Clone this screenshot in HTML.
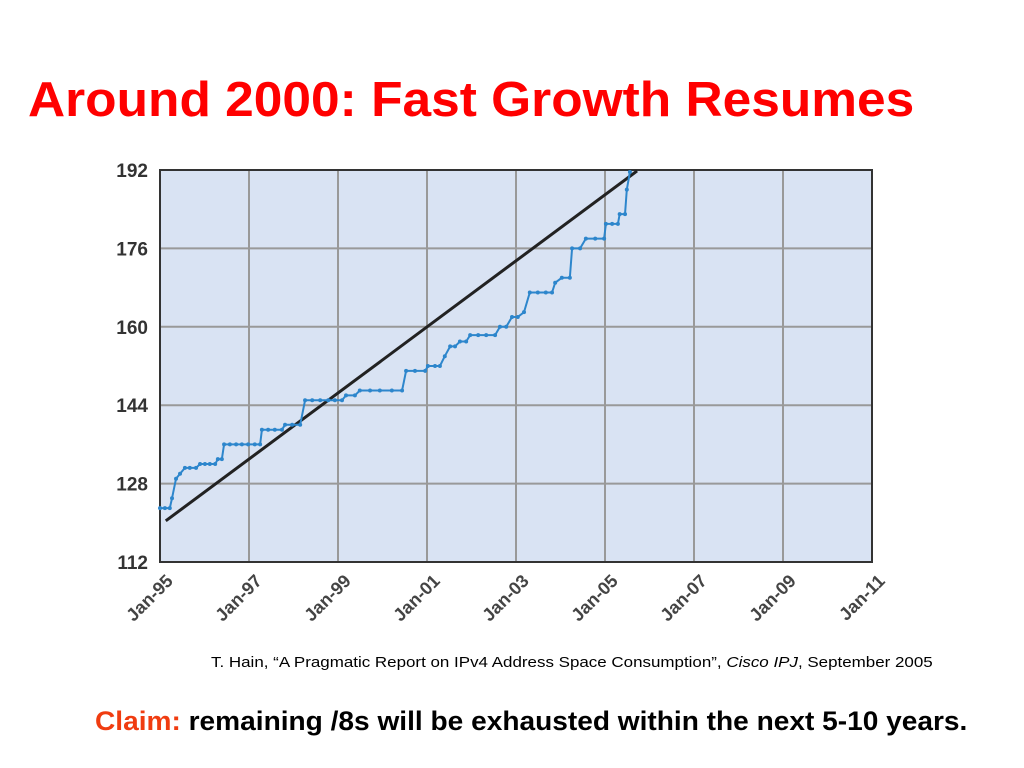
<!DOCTYPE html>
<html><head><meta charset="utf-8"><style>
body{margin:0;width:1024px;height:768px;background:#fff;position:relative;overflow:hidden;font-family:"Liberation Sans",sans-serif}
h1{position:absolute;left:28px;top:72px;margin:0;font-size:49px;color:#f00;font-weight:bold;white-space:nowrap;transform-origin:0 0;transform:scaleX(1.05)}
.cite{position:absolute;left:211px;top:654px;font-size:15px;color:#000;white-space:nowrap;transform-origin:0 0;transform:scaleX(1.13)}
.claim{position:absolute;left:95px;top:706px;font-size:27px;font-weight:bold;color:#000;white-space:nowrap;transform-origin:0 0;transform:scaleX(1.04)}
.claim span{color:#f03c10}
</style></head><body>
<h1>Around 2000: Fast Growth Resumes</h1>
<svg id="chart" width="1024" height="768" style="position:absolute;left:0;top:0"></svg>
<div class="cite">T. Hain, “A Pragmatic Report on IPv4 Address Space Consumption”, <i>Cisco IPJ</i>, September 2005</div>
<div class="claim"><span>Claim:</span> remaining /8s will be exhausted within the next 5-10 years.</div>
<script>
const yTicks=[112,128,144,160,176,192];
const xTickYears=[1995,1997,1999,2001,2003,2005,2007,2009,2011];
const xTickLabels=["Jan-95","Jan-97","Jan-99","Jan-01","Jan-03","Jan-05","Jan-07","Jan-09","Jan-11"];
const years=[1995.0,1995.11,1995.22,1995.27,1995.36,1995.45,1995.56,1995.67,1995.81,1995.9,1996.01,1996.12,1996.24,1996.3,1996.39,1996.44,1996.57,1996.71,1996.84,1996.98,1997.13,1997.25,1997.29,1997.43,1997.58,1997.74,1997.81,1997.97,1998.15,1998.26,1998.42,1998.6,1998.78,1998.93,1999.09,1999.18,1999.38,1999.49,1999.72,1999.94,2000.21,2000.44,2000.53,2000.73,2000.96,2001.02,2001.18,2001.29,2001.4,2001.52,2001.63,2001.74,2001.88,2001.97,2002.15,2002.33,2002.53,2002.64,2002.78,2002.91,2003.04,2003.18,2003.31,2003.49,2003.67,2003.81,2003.88,2004.03,2004.21,2004.26,2004.44,2004.57,2004.78,2004.98,2005.02,2005.16,2005.29,2005.33,2005.45,2005.49,2005.56];
const values=[123,123,123,125,129,130,131.2,131.2,131.2,132,132,132,132,133,133,136,136,136,136,136,136,136,139,139,139,139,140,140,140,145,145,145,145,145,145,146,146,147,147,147,147,147,151,151,151,152,152,152,154,156,156,157,157,158.3,158.3,158.3,158.3,160,160,162,162,163,167,167,167,167,169,170,170,176,176,178,178,178,181,181,181,183,183,188,191.6];
const trendYears=[1995.13,2005.72];
const trendValues=[120.4,191.8];
const NS="http://www.w3.org/2000/svg";
const svg=document.getElementById('chart');
const L=160,R=872,T=170,B=562;
const x=y=>L+(y-1995)/(2011-1995)*(R-L);
const yv=v=>B-(v-112)/(192-112)*(B-T);
function mk(t,a){const e=document.createElementNS(NS,t);for(const k in a)e.setAttribute(k,a[k]);svg.appendChild(e);return e;}
const bg=mk('rect',{x:L,y:T,width:R-L,height:B-T,fill:'#d9e3f3'});


yTicks.forEach(v=>{
 const g=mk('line',{x1:L,x2:R,y1:yv(v),y2:yv(v),stroke:'#999',"stroke-width":2});
 
 
 const t=mk('text',{x:L-12,y:yv(v)+7,"text-anchor":"end","font-size":19,"font-weight":"bold",fill:'#333',"font-family":"Liberation Sans"});
 t.textContent=v;
 
 
});
xTickYears.forEach((yr,i)=>{
 const g=mk('line',{x1:x(yr),x2:x(yr),y1:T,y2:B,stroke:'#999',"stroke-width":2});
 
 
 const px=x(yr)+14,py=B+20;
 const t=mk('text',{x:px,y:py,"text-anchor":"end","font-size":18,"font-weight":"bold",fill:'#444',"font-family":"Liberation Sans",transform:`rotate(-45 ${px} ${py})`});
 t.textContent=xTickLabels[i];
 
 
});
const fr=mk('rect',{x:L,y:T,width:R-L,height:B-T,fill:'none',stroke:'#333',"stroke-width":2});


const tl=mk('line',{x1:x(trendYears[0]),y1:yv(trendValues[0]),x2:x(trendYears[1]),y2:yv(trendValues[1]),stroke:'#222',"stroke-width":3});


let d='';
years.forEach((yr,i)=>{d+=(i?'L':'M')+x(yr)+' '+yv(values[i]);});
const pl=mk('path',{d:d,fill:'none',stroke:'#2d86cc',"stroke-width":2});


years.forEach((yr,i)=>{
 const c=mk('circle',{cx:x(yr),cy:yv(values[i]),r:2,fill:'#2d86cc'});
 
 
});
</script>
</body></html>
